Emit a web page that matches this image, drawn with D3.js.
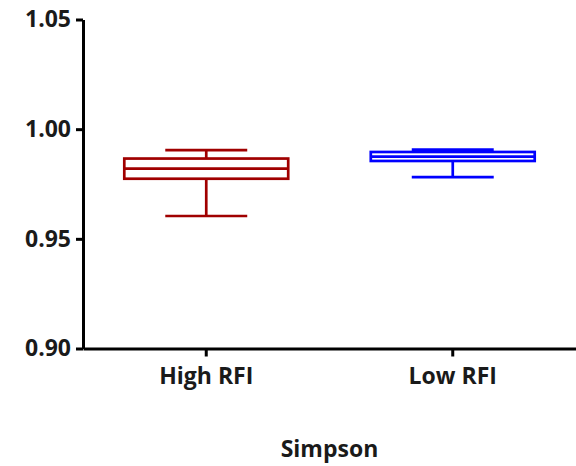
<!DOCTYPE html>
<html>
<head>
<meta charset="utf-8">
<script src="https://cdn.jsdelivr.net/npm/d3@7"></script>
<style>
  html, body { margin: 0; padding: 0; background: #fff; }
  svg { display: block; }
  text { font-family: "Open Sans", "DejaVu Sans", sans-serif; font-weight: bold; fill: #1a1a1a; }
</style>
</head>
<body>
<svg id="chart" width="576" height="466"></svg>
<script>
// Data
const categories = ["High RFI", "Low RFI"];
const boxMin    = [0.9604, 0.9781];
const boxQ1     = [0.9774, 0.9855];
const boxMedian = [0.9820, 0.9875];
const boxQ3     = [0.9866, 0.9896];
const boxMax    = [0.9904, 0.9907];
const seriesColors = ["#a00000", "#0000ff"];
const yTickValues = [0.90, 0.95, 1.00, 1.05];
const xAxisTitle = "Simpson";

const svg = d3.select("#chart");
const mLeft = 83, mRight = 576, mTop = 19.5, mBottom = 348.5;

const y = d3.scaleLinear().domain([0.90, 1.05]).range([mBottom, mTop]);
const x = d3.scaleBand().domain(categories).range([mLeft, mRight]);

// Boxes
const boxW = x.bandwidth() * 0.665;
const capW = boxW / 2;
const g = svg.append("g");
categories.forEach((c, i) => {
  const cx = x(c) + x.bandwidth() / 2;
  const col = seriesColors[i];
  const gg = g.append("g").attr("stroke", col).attr("stroke-width", 2.7).attr("fill", "none");
  gg.append("line").attr("x1", cx).attr("x2", cx).attr("y1", y(boxMax[i])).attr("y2", y(boxQ3[i]));
  gg.append("line").attr("x1", cx).attr("x2", cx).attr("y1", y(boxQ1[i])).attr("y2", y(boxMin[i]));
  gg.append("line").attr("x1", cx - capW / 2).attr("x2", cx + capW / 2).attr("y1", y(boxMax[i])).attr("y2", y(boxMax[i]));
  gg.append("line").attr("x1", cx - capW / 2).attr("x2", cx + capW / 2).attr("y1", y(boxMin[i])).attr("y2", y(boxMin[i]));
  gg.append("rect").attr("x", cx - boxW / 2).attr("width", boxW)
    .attr("y", y(boxQ3[i])).attr("height", y(boxQ1[i]) - y(boxQ3[i]));
  gg.append("line").attr("x1", cx - boxW / 2).attr("x2", cx + boxW / 2)
    .attr("y1", y(boxMedian[i])).attr("y2", y(boxMedian[i]));
});

// Y axis
const yAxis = svg.append("g").attr("transform", `translate(${mLeft},0)`)
  .call(d3.axisLeft(y).tickValues(yTickValues).tickFormat(d3.format(".2f")).tickSize(7).tickPadding(5).tickSizeOuter(0));
yAxis.select(".domain").attr("stroke", "#000").attr("stroke-width", 3);
yAxis.selectAll(".tick line").attr("stroke", "#000").attr("stroke-width", 3);
yAxis.selectAll(".tick text").style("font-size", "23px").attr("fill", "#1a1a1a");

// X axis
const xAxis = svg.append("g").attr("transform", `translate(0,${mBottom})`)
  .call(d3.axisBottom(x).tickSize(8).tickPadding(11).tickSizeOuter(0));
xAxis.select(".domain").attr("stroke", "#000").attr("stroke-width", 3);
xAxis.selectAll(".tick line").attr("stroke", "#000").attr("stroke-width", 3);
xAxis.selectAll(".tick text").style("font-size", "23px").attr("fill", "#1a1a1a");

// X axis title
svg.append("text").attr("x", (mLeft + mRight) / 2).attr("y", 457)
  .attr("text-anchor", "middle").style("font-size", "23px").text(xAxisTitle);
</script>
</body>
</html>
